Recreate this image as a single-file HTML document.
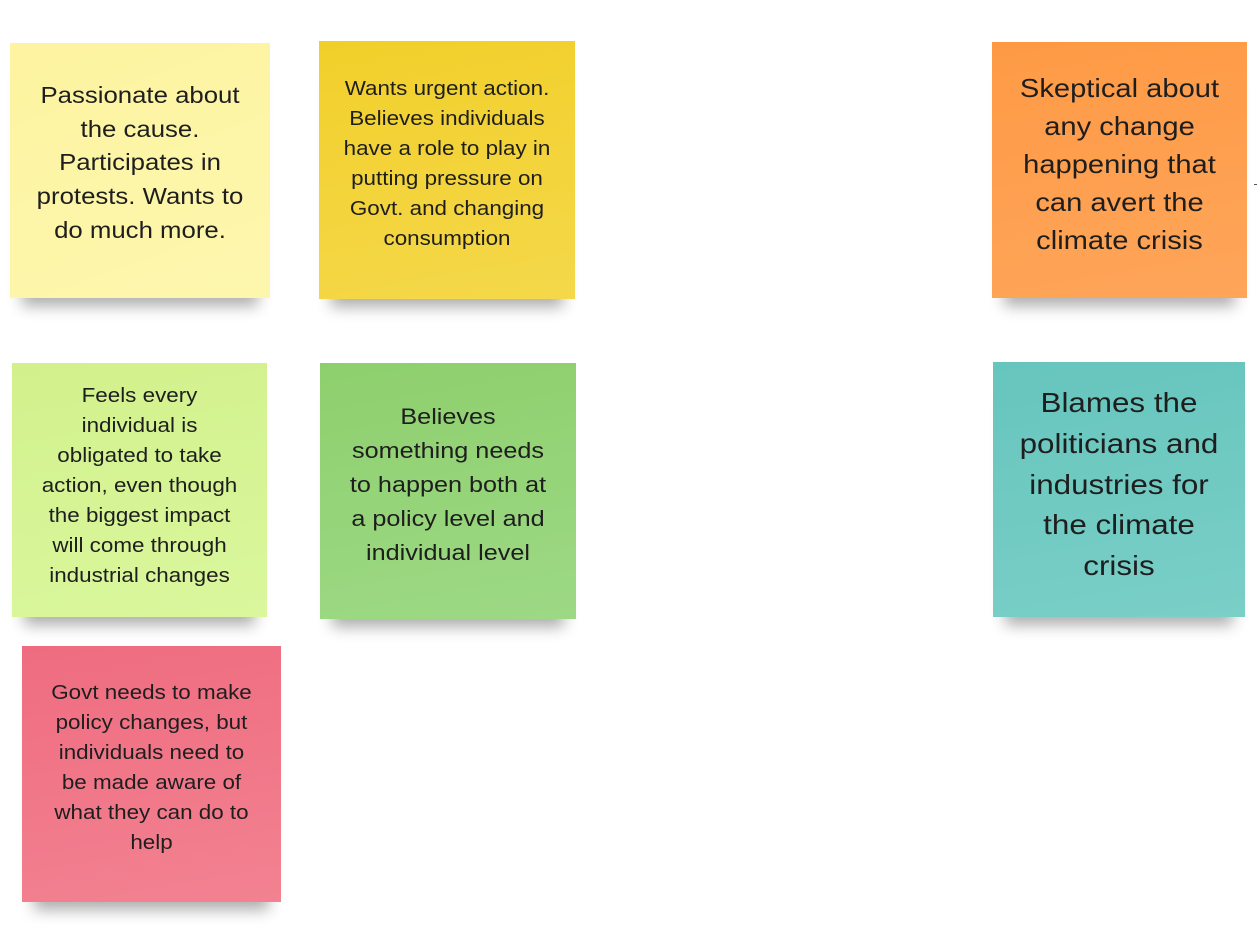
<!DOCTYPE html>
<html><head><meta charset="utf-8"><style>
html,body{margin:0;padding:0;background:#fff;width:1258px;height:934px;overflow:hidden;position:relative}
.n{position:absolute;box-sizing:border-box;text-align:center;color:#1e1e1e;font-family:"Liberation Sans",sans-serif;box-shadow:0 20px 14px -12px rgba(0,0,0,0.32)}
.n span{display:block;transform:scaleX(1.12);transform-origin:center}
</style></head><body>
<div class="n" style="left:10px;top:43px;width:260px;height:255px;padding-top:36px;font-size:23px;line-height:33.7px;background:linear-gradient(160deg,#fdf3a0,#fdf7ae)"><span>Passionate about<br>the cause.<br>Participates in<br>protests. Wants to<br>do much more.</span></div>
<div class="n" style="left:319px;top:41px;width:256px;height:258px;padding-top:33px;font-size:20px;line-height:30px;background:linear-gradient(170deg,#f1cf2a,#f5d84a)"><span>Wants urgent action.<br>Believes individuals<br>have a role to play in<br>putting pressure on<br>Govt. and changing<br>consumption</span></div>
<div class="n" style="left:992px;top:42px;width:255px;height:256px;padding-top:27px;font-size:26px;line-height:38px;background:linear-gradient(170deg,#fe9a45,#fea55a)"><span>Skeptical about<br>any change<br>happening that<br>can avert the<br>climate crisis</span></div>
<div style="position:absolute;left:1254px;top:184px;width:3px;height:1px;background:#555"></div>
<div class="n" style="left:12px;top:363px;width:255px;height:254px;padding-top:18px;font-size:20px;line-height:30px;background:linear-gradient(170deg,#d2f18c,#daf79d)"><span>Feels every<br>individual is<br>obligated to take<br>action, even though<br>the biggest impact<br>will come through<br>industrial changes</span></div>
<div class="n" style="left:320px;top:363px;width:256px;height:256px;padding-top:37px;font-size:22.5px;line-height:34px;background:linear-gradient(170deg,#8ecf6d,#9dd985)"><span>Believes<br>something needs<br>to happen both at<br>a policy level and<br>individual level</span></div>
<div class="n" style="left:993px;top:362px;width:252px;height:255px;padding-top:21px;font-size:28px;line-height:40.8px;background:linear-gradient(170deg,#66c5bd,#7acfc7)"><span>Blames the<br>politicians and<br>industries for<br>the climate<br>crisis</span></div>
<div class="n" style="left:22px;top:646px;width:259px;height:256px;padding-top:32px;font-size:20px;line-height:30px;background:linear-gradient(170deg,#ef6c80,#f28291)"><span>Govt needs to make<br>policy changes, but<br>individuals need to<br>be made aware of<br>what they can do to<br>help</span></div>
</body></html>
